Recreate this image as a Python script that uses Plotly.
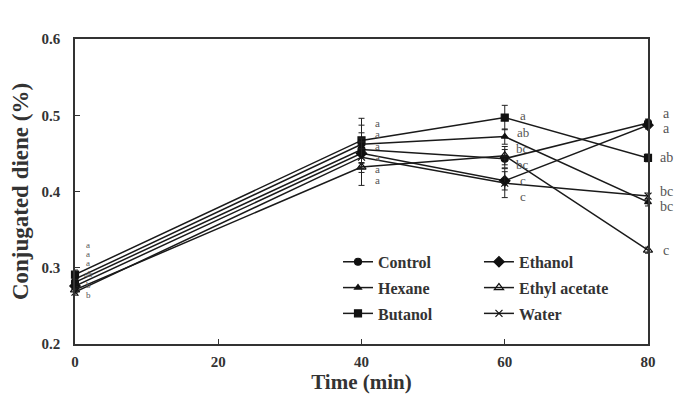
import plotly.graph_objects as go

time = [0, 40, 60, 80]

control = [0.281, 0.455, 0.443, 0.490]
ethanol = [0.276, 0.450, 0.414, 0.487]
hexane = [0.285, 0.462, 0.472, 0.386]
ethyl_acetate = [0.271, 0.432, 0.447, 0.323]
butanol = [0.291, 0.467, 0.497, 0.444]
water = [0.268, 0.445, 0.411, 0.394]

control_err = [0.005, 0.022, 0.012, 0.005]
ethanol_err = [0.005, 0.020, 0.012, 0.005]
hexane_err = [0.005, 0.025, 0.010, 0.005]
ethyl_acetate_err = [0.004, 0.024, 0.012, 0.004]
butanol_err = [0.006, 0.029, 0.016, 0.005]
water_err = [0.004, 0.020, 0.019, 0.004]

# significance letters at each time point (label text, label y value)
letters_t0 = ["a", "a", "a", "ab", "b", "b"]
letters_t0_y = [0.330, 0.318, 0.306, 0.292, 0.278, 0.264]
letters_t40 = ["a", "a", "a", "a", "a", "a"]
letters_t40_y = [0.490, 0.475, 0.460, 0.445, 0.430, 0.415]
letters_t60 = ["a", "ab", "bc", "bc", "c", "c"]
letters_t60_y = [0.500, 0.478, 0.457, 0.436, 0.415, 0.394]
letters_t80 = ["a", "a", "ab", "bc", "bc", "c"]
letters_t80_y = [0.502, 0.483, 0.444, 0.400, 0.380, 0.323]

x_ticks = [0, 20, 40, 60, 80]
y_ticks = [0.2, 0.3, 0.4, 0.5, 0.6]

series = [
    ("Control", control, control_err, "circle", 7, "legend"),
    ("Hexane", hexane, hexane_err, "triangle-up", 6, "legend"),
    ("Butanol", butanol, butanol_err, "square", 7, "legend"),
    ("Ethanol", ethanol, ethanol_err, "diamond", 8, "legend2"),
    ("Ethyl acetate", ethyl_acetate, ethyl_acetate_err, "triangle-up-open", 8, "legend2"),
    ("Water", water, water_err, "x-thin-open", 7, "legend2"),
]

fig = go.Figure()
for name, vals, errs, sym, size, lg in series:
    fig.add_trace(go.Scatter(
        x=time, y=vals, name=name, mode="lines+markers",
        line=dict(color="#1a1a1a", width=1.5),
        marker=dict(symbol=sym, size=size, color="#111111",
                    line=dict(color="#111111", width=1.2)),
        error_y=dict(type="data", array=errs, color="#222222",
                     thickness=1, width=3),
        cliponaxis=False, legend=lg, legendgroup=name,
    ))

label_font = "Liberation Serif"
for t, texts, ys, fs, dx in [
    (0, letters_t0, letters_t0_y, 9, 13),
    (40, letters_t40, letters_t40_y, 11, 16),
    (60, letters_t60, letters_t60_y, 13, 18),
    (80, letters_t80, letters_t80_y, 14, 18),
]:
    for txt, yy in zip(texts, ys):
        fig.add_annotation(x=t, y=yy, text=txt, showarrow=False,
                           xanchor="center", yanchor="middle", xshift=dx,
                           font=dict(family=label_font, size=fs, color="#555555"))

axis_font = dict(family="Liberation Serif", size=15, color="#333333", weight="bold")
title_color = "#333333"
legend_font = dict(family="Liberation Serif", size=16, color="#333333", weight="bold")
fig.update_layout(
    width=686, height=396,
    margin=dict(l=75, r=38, t=39, b=52, autoexpand=False),
    paper_bgcolor="white", plot_bgcolor="white",
    font=dict(family="Liberation Serif", color="#333333"),
    xaxis=dict(
        range=[0, 80], tickvals=x_ticks, ticktext=[str(v) for v in x_ticks],
        ticks="inside", ticklen=5, tickcolor="#333333", ticklabelstandoff=3,
        showline=True, linecolor="#333333", linewidth=1.5, mirror=True,
        showgrid=False, zeroline=False, automargin=False,
        tickfont=axis_font,
        title=dict(text="Time (min)", font=dict(family="Liberation Serif", size=21, color=title_color, weight="bold"), standoff=4),
    ),
    yaxis=dict(
        range=[0.2, 0.6], tickvals=y_ticks, ticktext=[f"{v:.1f}" for v in y_ticks],
        ticks="inside", ticklen=5, tickcolor="#333333", ticklabelstandoff=10,
        showline=True, linecolor="#333333", linewidth=1.5, mirror=True,
        showgrid=False, zeroline=False, automargin=False,
        tickfont=axis_font,
        title=dict(text="Conjugated diene (%)", font=dict(family="Liberation Serif", size=23, color=title_color, weight="bold"), standoff=6),
    ),
    legend=dict(x=0.459, y=0.325, xanchor="left", yanchor="top",
                bgcolor="rgba(0,0,0,0)", tracegroupgap=2, font=legend_font),
    legend2=dict(x=0.705, y=0.325, xanchor="left", yanchor="top",
                 bgcolor="rgba(0,0,0,0)", tracegroupgap=2, font=legend_font),
)

fig.write_html("out.html")
